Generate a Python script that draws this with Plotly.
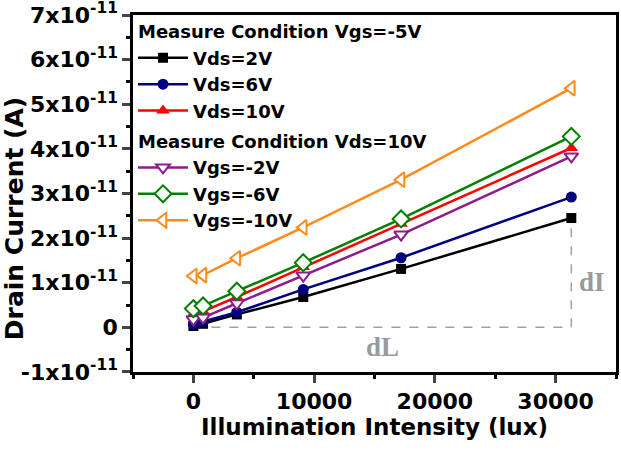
import plotly.graph_objects as go

lux = [0, 800, 3600, 9100, 17200, 31300]

vds_2v = [0.03e-11, 0.08e-11, 0.29e-11, 0.68e-11, 1.31e-11, 2.45e-11]
vds_6v = [0.07e-11, 0.13e-11, 0.34e-11, 0.85e-11, 1.56e-11, 2.92e-11]
vds_10v = [0.30e-11, 0.36e-11, 0.68e-11, 1.35e-11, 2.32e-11, 4.02e-11]
vgs_m2v = [0.18e-11, 0.22e-11, 0.54e-11, 1.16e-11, 2.08e-11, 3.83e-11]
vgs_m6v = [0.42e-11, 0.48e-11, 0.81e-11, 1.45e-11, 2.43e-11, 4.28e-11]
vgs_m10v = [1.15e-11, 1.17e-11, 1.55e-11, 2.24e-11, 3.31e-11, 5.36e-11]

y_tickvals = [-1e-11, 0, 1e-11, 2e-11, 3e-11, 4e-11, 5e-11, 6e-11, 7e-11]
y_ticktext = ["-1x10<sup>-11</sup>", "0", "1x10<sup>-11</sup>", "2x10<sup>-11</sup>",
              "3x10<sup>-11</sup>", "4x10<sup>-11</sup>", "5x10<sup>-11</sup>",
              "6x10<sup>-11</sup>", "7x10<sup>-11</sup>"]
x_tickvals = [0, 10000, 20000, 30000]
x_ticktext = ["0", "10000", "20000", "30000"]

FONT = "DejaVu Sans"

series = [
    ("Vds=2V", vds_2v, "#000000", "square", True, "g1", "Measure Condition Vgs=-5V", 10),
    ("Vds=6V", vds_6v, "#000080", "circle", True, "g1", "Measure Condition Vgs=-5V", 11),
    ("Vds=10V", vds_10v, "#FF0000", "triangle-up", True, "g1", "Measure Condition Vgs=-5V", 12),
    ("Vgs=-2V", vgs_m2v, "#8E1A8E", "triangle-down", False, "g2", "Measure Condition Vds=10V", 12),
    ("Vgs=-6V", vgs_m6v, "#008000", "diamond", False, "g2", "Measure Condition Vds=10V", 13),
    ("Vgs=-10V", vgs_m10v, "#FF8C1A", "triangle-left", False, "g2", "Measure Condition Vds=10V", 13),
]

fig = go.Figure()

# dL / dI guide lines
fig.add_shape(type="line", x0=lux[0], x1=lux[-1], y0=0, y1=0,
              line=dict(color="#A0A0A0", width=1.5, dash="dash"), layer="below")
fig.add_shape(type="line", x0=lux[-1], x1=lux[-1], y0=0, y1=vds_2v[-1],
              line=dict(color="#A0A0A0", width=1.5, dash="dash"), layer="below")

for name, ys, col, sym, filled, grp, gtitle, ms in series:
    fig.add_trace(go.Scatter(
        x=lux, y=ys, name=name, mode="lines+markers",
        line=dict(color=col, width=2.5),
        marker=dict(symbol=sym, size=ms, color=col if filled else "white",
                    line=dict(color=col, width=2 if not filled else 0)),
        legendgroup=grp,
        legendgrouptitle=dict(text=gtitle, font=dict(family=FONT, size=18, color="black", weight="bold")),
    ))

fig.add_annotation(x=(lux[0] + lux[-1]) / 2, y=-0.43e-11, text="<b>dL</b>", showarrow=False,
                   font=dict(family="Liberation Serif", size=27, color="#9A9A9A"))
fig.add_annotation(x=lux[-1] + 1700, y=1.02e-11, text="<b>dI</b>", showarrow=False,
                   font=dict(family="Liberation Serif", size=27, color="#9A9A9A"))

# y axis title as annotation
fig.add_annotation(xref="paper", yref="paper", x=-0.245, y=0.43, xanchor="center", yanchor="middle",
                   text="<b>Drain Current (A)</b>",
                   textangle=-90, showarrow=False,
                   font=dict(family=FONT, size=25, color="black"))

fig.update_xaxes(range=[-5000, 35000], tickvals=x_tickvals, ticktext=x_ticktext, ticks="outside", ticklen=8, tickwidth=2.5,
                 minor=dict(ticks="outside", ticklen=4, tickwidth=2.5, dtick=5000, tick0=0, tickcolor="black"),
                 showline=True, linewidth=2.5, linecolor="black", mirror=True, showgrid=False, zeroline=False,
                 tickfont=dict(family=FONT, size=22, color="black", weight="bold"),
                 ticklabeloverflow="allow", automargin=False,
                 title=dict(text="<b>Illumination Intensity (lux)</b>", font=dict(family=FONT, size=23, color="black"),
                            standoff=4))
fig.update_yaxes(range=[-1.0005e-11, 7.0005e-11], tickvals=y_tickvals, ticktext=y_ticktext, ticks="outside",
                 ticklen=8, tickwidth=2.5,
                 minor=dict(ticks="outside", ticklen=4, tickwidth=2.5, dtick=0.5e-11, tick0=0, tickcolor="black"),
                 showline=True, linewidth=2.5, linecolor="black", mirror=True, showgrid=False, zeroline=False,
                 ticklabeloverflow="allow", automargin=False,
                 tickfont=dict(family=FONT, size=22, color="black", weight="bold"))

fig.update_layout(
    width=621, height=454,
    margin=dict(l=133, r=5, t=15, b=82, autoexpand=False),
    plot_bgcolor="white", paper_bgcolor="white",
    showlegend=True,
    legend=dict(x=0.0, y=1.005, xanchor="left", yanchor="top", bgcolor="rgba(0,0,0,0)",
                font=dict(family=FONT, size=18, color="black", weight="bold"),
                tracegroupgap=4, itemwidth=50, traceorder="grouped"),
)

fig.write_html("out.html")
